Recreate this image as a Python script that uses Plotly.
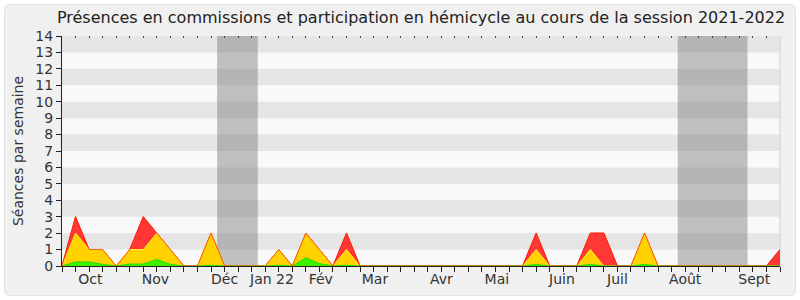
import plotly.graph_objects as go

# ---- data (week index 0..53) ----
weeks = list(range(54))
red_vals = [0, 3, 1, 1, 0, 1, 3, 2, 1, 0, 0, 2, 0, 0, 0, 0, 1, 0, 2, 1,
            0, 2, 0, 0, 0, 0, 0, 0, 0, 0, 0, 0, 0, 0, 0, 2, 0, 0, 0, 2,
            2, 0, 0, 2, 0, 0, 0, 0, 0, 0, 0, 0, 0, 1]
yellow_vals = [0, 2, 1, 1, 0, 1, 1, 2, 1, 0, 0, 2, 0, 0, 0, 0, 1, 0, 2, 1,
               0, 1, 0, 0, 0, 0, 0, 0, 0, 0, 0, 0, 0, 0, 0, 1, 0, 0, 0, 1,
               0, 0, 0, 2, 0, 0, 0, 0, 0, 0, 0, 0, 0, 0]
green_vals = [0, 0.25, 0.25, 0.1, 0, 0.12, 0.12, 0.4, 0.1, 0, 0, 0.05, 0, 0, 0, 0, 0.05, 0, 0.5, 0.15,
              0, 0.05, 0, 0, 0, 0, 0, 0, 0, 0, 0, 0, 0, 0, 0, 0.1, 0, 0, 0, 0.1,
              0, 0, 0, 0.1, 0, 0, 0, 0, 0, 0, 0, 0, 0, 0]
month_labels = ["Oct", "Nov", "Déc", "Jan 22", "Fév", "Mar", "Avr", "Mai", "Juin", "Juil", "Août", "Sept"]
month_pos = [2.1, 6.9, 12.0, 15.5, 19.1, 23.1, 28.0, 32.1, 36.9, 41.0, 46.0, 51.1]
holidays = [(11.45, 14.45), (45.45, 50.6)]
y_ticks = list(range(15))

W, H = 800, 300
ML, MR, MT, MB = 62, 20, 36, 34
PW, PH = W - ML - MR, H - MT - MB

fig = go.Figure()
fig.add_trace(go.Scatter(x=weeks, y=red_vals, fill="tozeroy", mode="lines",
                         fillcolor="rgb(255,55,55)", line=dict(color="rgb(255,30,30)", width=1),
                         hoverinfo="skip", showlegend=False))
fig.add_trace(go.Scatter(x=weeks, y=yellow_vals, fill="tozeroy", mode="lines",
                         fillcolor="rgb(255,210,0)", line=dict(color="rgb(255,240,40)", width=1),
                         hoverinfo="skip", showlegend=False))
fig.add_trace(go.Scatter(x=weeks, y=green_vals, fill="tozeroy", mode="lines",
                         fillcolor="rgb(60,240,0)", line=dict(color="rgb(40,220,0)", width=1),
                         hoverinfo="skip", showlegend=False))
fig.add_trace(go.Scatter(x=weeks, y=red_vals, mode="lines",
                         line=dict(color="rgba(255,40,0,0.75)", width=1),
                         hoverinfo="skip", showlegend=False))
# invisible trace for top axis
fig.add_trace(go.Scatter(x=[weeks[0]], y=[0], xaxis="x2", mode="markers",
                         marker=dict(opacity=0), hoverinfo="skip", showlegend=False))

shapes = []
# rounded panel
def px_to_paper_x(px):
    return (px - ML) / PW
def py_to_paper_y(py):
    return (H - MB - py) / PH
x0, x1, y0, y1, r = 4.5, 795.5, 4.5, 295.5, 6
path = (f"M {px_to_paper_x(x0 + r)} {py_to_paper_y(y0)} "
        f"L {px_to_paper_x(x1 - r)} {py_to_paper_y(y0)} "
        f"Q {px_to_paper_x(x1)} {py_to_paper_y(y0)} {px_to_paper_x(x1)} {py_to_paper_y(y0 + r)} "
        f"L {px_to_paper_x(x1)} {py_to_paper_y(y1 - r)} "
        f"Q {px_to_paper_x(x1)} {py_to_paper_y(y1)} {px_to_paper_x(x1 - r)} {py_to_paper_y(y1)} "
        f"L {px_to_paper_x(x0 + r)} {py_to_paper_y(y1)} "
        f"Q {px_to_paper_x(x0)} {py_to_paper_y(y1)} {px_to_paper_x(x0)} {py_to_paper_y(y1 - r)} "
        f"L {px_to_paper_x(x0)} {py_to_paper_y(y0 + r)} "
        f"Q {px_to_paper_x(x0)} {py_to_paper_y(y0)} {px_to_paper_x(x0 + r)} {py_to_paper_y(y0)} Z")
shapes.append(dict(type="path", xref="paper", yref="paper", path=path,
                   fillcolor="#F0F0F0", line=dict(color="#E2E2E2", width=1), layer="below"))
# plot background (light)
shapes.append(dict(type="rect", xref="paper", yref="paper", x0=0, x1=1, y0=0, y1=1,
                   fillcolor="#F9F9F9", line=dict(width=0), layer="below"))
# stripes
for k in range(1, 14, 2):
    shapes.append(dict(type="rect", xref="paper", yref="y", x0=0, x1=1, y0=k, y1=k + 1,
                       fillcolor="#E5E5E5", line=dict(width=0), layer="below"))
# holidays
for a, b in holidays:
    shapes.append(dict(type="rect", xref="x", yref="paper", x0=a, x1=b, y0=0, y1=1,
                       fillcolor="rgba(120,120,120,0.45)", line=dict(width=0), layer="below"))
# right border
shapes.append(dict(type="line", xref="paper", yref="paper", x0=1, x1=1, y0=0, y1=1,
                   line=dict(color="#D0D0D0", width=1), layer="below"))

font_family = "DejaVu Sans"
fig.update_layout(
    width=W, height=H,
    margin=dict(l=ML, r=MR, t=MT, b=MB, pad=0),
    paper_bgcolor="white",
    plot_bgcolor="rgba(0,0,0,0)",
    shapes=shapes,
    font=dict(family=font_family, size=14, color="#333333"),
    title=dict(text="Présences en commissions et participation en hémicycle au cours de la session 2021-2022",
               x=0.5, xanchor="center", xref="paper", y=1 - 17 / H, yanchor="middle",
               font=dict(size=16, color="#222222", family=font_family)),
    xaxis=dict(range=[0, 53], showgrid=False, zeroline=False,
               tickmode="array", tickvals=month_pos, ticktext=month_labels,
               ticks="", ticklen=0, showline=True, linecolor="#222222", linewidth=1,
               tickfont=dict(size=14, color="#333333"),
               minor=dict(ticks="outside", ticklen=5, tickcolor="#222222", dtick=1, tick0=0,
                          showgrid=False)),
    xaxis2=dict(range=[0, 53], overlaying="x", side="top", anchor="y", showgrid=False,
                zeroline=False, showticklabels=False, showline=False,
                tickmode="linear", tick0=0, dtick=1, ticks="inside", ticklen=2,
                tickcolor="#444444", tickwidth=1),
    yaxis=dict(range=[0, 14], showgrid=False, zeroline=False, tickmode="array",
               tickvals=y_ticks, ticks="outside", ticklen=5, tickcolor="#222222",
               showline=True, linecolor="#222222", linewidth=1,
               tickfont=dict(size=14, color="#333333"),
               title=dict(text="Séances par semaine", font=dict(size=14, color="#333333"), standoff=8)),
)

fig.write_html("out.html")
